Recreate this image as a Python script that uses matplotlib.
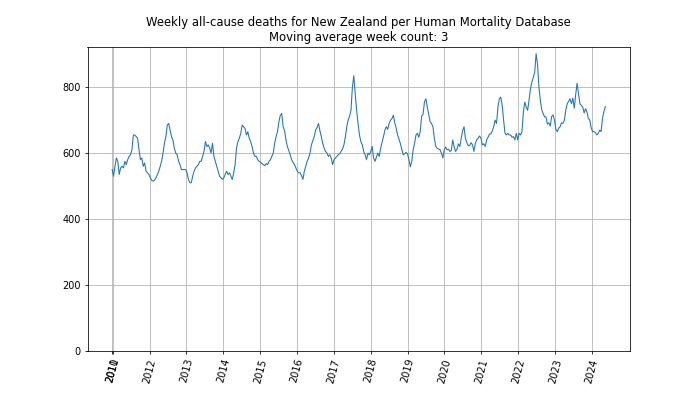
import datetime

import matplotlib
matplotlib.use('Agg')
import matplotlib.pyplot as plt
import pandas as pd

# Fortnightly readings of the 3-week moving average, one list per year
deaths_2011 = [550, 530, 560, 585, 575, 535, 555, 560, 555, 575, 565, 580, 590,
               595, 610, 655, 655, 650, 645, 610, 580, 585, 560, 570, 545, 540]
deaths_2012 = [535, 525, 517, 515, 518, 525, 535, 545, 560, 575, 600, 630, 650,
               685, 690, 670, 650, 640, 615, 600, 595, 575, 565, 550, 550, 550]
deaths_2013 = [550, 540, 520, 510, 510, 530, 545, 555, 560, 565, 575, 575, 590,
               605, 635, 620, 625, 615, 600, 630, 590, 575, 560, 545, 530, 525]
deaths_2014 = [520, 525, 535, 545, 535, 540, 530, 520, 540, 565, 615, 635, 645,
               660, 685, 680, 675, 655, 665, 645, 635, 620, 600, 590, 590, 580]
deaths_2015 = [575, 572, 568, 565, 562, 568, 565, 575, 580, 590, 600, 630, 650,
               665, 695, 715, 720, 680, 668, 640, 620, 608, 595, 580, 572, 565]
deaths_2016 = [555, 545, 540, 540, 532, 520, 545, 560, 575, 585, 600, 625, 638,
               650, 670, 678, 690, 668, 650, 630, 615, 605, 600, 590, 595, 585]
deaths_2017 = [565, 580, 585, 590, 595, 598, 605, 612, 625, 648, 680, 700, 712,
               730, 800, 835, 780, 730, 690, 655, 635, 625, 605, 595, 580, 600]
deaths_2018 = [595, 605, 620, 585, 575, 588, 600, 590, 615, 632, 650, 670, 680,
               672, 690, 700, 705, 715, 692, 675, 655, 642, 628, 610, 595, 598]
deaths_2019 = [602, 598, 580, 558, 575, 610, 630, 655, 660, 648, 665, 712, 718,
               755, 765, 740, 718, 695, 690, 680, 645, 620, 615, 612, 610, 600]
deaths_2020 = [585, 610, 618, 610, 612, 605, 608, 640, 620, 605, 612, 628, 620,
               645, 668, 680, 645, 632, 622, 623, 632, 625, 605, 630, 640, 645]
deaths_2021 = [652, 645, 625, 628, 620, 640, 648, 658, 658, 668, 680, 700, 690,
               740, 765, 770, 745, 700, 660, 655, 660, 655, 655, 648, 650, 640]
deaths_2022 = [660, 640, 660, 655, 665, 725, 755, 740, 730, 760, 795, 815, 830,
               845, 902, 870, 800, 760, 731, 720, 710, 710, 688, 692, 682, 711]
deaths_2023 = [716, 700, 672, 665, 676, 680, 692, 690, 700, 730, 750, 757, 765,
               750, 767, 736, 777, 812, 782, 750, 745, 740, 722, 735, 725, 705]
deaths_2024 = [700, 676, 665, 665, 662, 655, 660, 670, 665, 706, 726, 741]

tick_years = list(range(2010, 2025))

deaths = (deaths_2011 + deaths_2012 + deaths_2013 + deaths_2014 + deaths_2015
          + deaths_2016 + deaths_2017 + deaths_2018 + deaths_2019 + deaths_2020
          + deaths_2021 + deaths_2022 + deaths_2023 + deaths_2024)
weeks = pd.date_range('2010-12-27', periods=len(deaths), freq='14D')

fig = plt.figure(figsize=(10, 5.63), dpi=70)
plt.plot(weeks, deaths, linewidth=1.1)

# first tick sits on the first week (ISO week 2010-W52), the rest on Jan 1
tick_pos = [weeks[0]] + [datetime.datetime(y, 1, 1) for y in tick_years[1:]]
plt.xticks(tick_pos, [str(y) for y in tick_years], rotation=75)
plt.ylim(bottom=0)
plt.grid()
plt.title('Weekly all-cause deaths for New Zealand per Human Mortality Database\n'
          'Moving average week count: 3')

plt.savefig('out.png')
